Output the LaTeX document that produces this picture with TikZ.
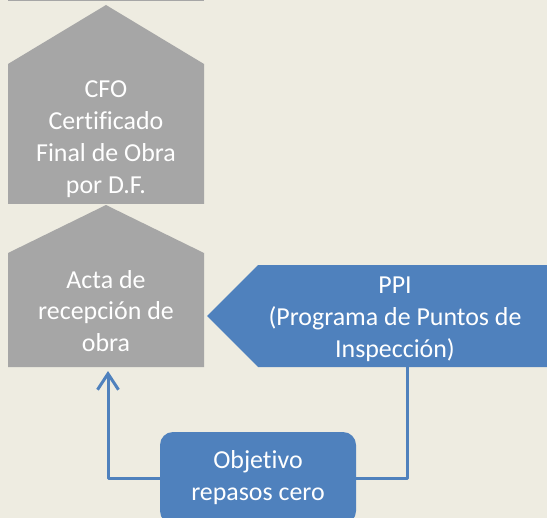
\documentclass[tikz,border=0pt]{standalone}
\usepackage{fontspec}
\setmainfont{Carlito}[Ligatures=NoCommon]
\usepackage{tikz}
\usetikzlibrary{arrows.meta}
\definecolor{fondo}{rgb}{0.933,0.925,0.882}
\definecolor{gris}{rgb}{0.651,0.651,0.651}
\definecolor{azul}{rgb}{0.31,0.506,0.741}

\begin{document}
\begin{tikzpicture}[line cap=round,line join=round,>={Straight Barb[length=16bp,width=21bp]},x=1.0bp,y=-1.0bp,
  texto/.style={text=white,align=center,inner sep=0pt,font=\fontsize{26}{32}\selectfont},
  caja/.style={fill=azul,rounded corners=13bp,minimum width=196bp,minimum height=92bp,inner sep=0pt},
  enlace/.style={draw=azul,line width=3bp}]
\useasboundingbox (0,0) rectangle (547,518);
\fill[color=fondo] (0,0) rectangle (547,518);
\clip (0,0) rectangle (547,518);
% formas
\fill[color=gris] (8,0) rectangle (204,1.5);
\fill[color=gris] (8,204) -- (8,64) -- (106,5) -- (204,64) -- (204,204) -- cycle;
\fill[color=gris] (8,367) -- (8,253) -- (106,205) -- (204,253) -- (204,367) -- cycle;
\fill[color=azul] (560,265) -- (258,265) -- (207,316) -- (258,367) -- (560,367) -- cycle;
% textos
\node[texto] (cfo) at (106,139) {CFO\\Certificado\\Final de Obra\\por D.F.};
\node[texto] (acta) at (106,311) {Acta de\\recepción de\\obra};
\node[texto] (ppi) at (395,319) {PPI\\(Programa de Puntos de\\Inspección)};
\node[caja,texto] (objetivo) at (258,478) {Objetivo\\repasos cero};
\coordinate (actabase) at (108,371);
\coordinate (ppibase) at (407,367);
% conectores
\draw[enlace] (ppibase) |- (objetivo.east);
\draw[enlace,->] (objetivo.west) -| (actabase);
\end{tikzpicture}
\end{document}
